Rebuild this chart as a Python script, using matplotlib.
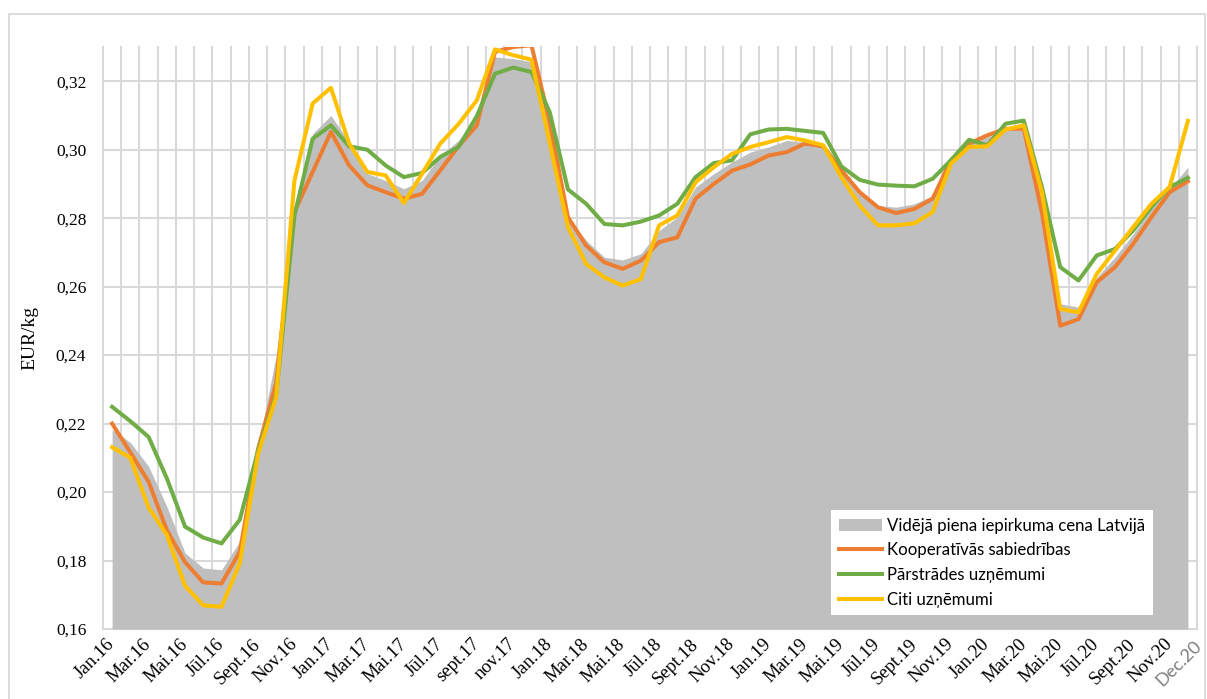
import numpy as np
import matplotlib
matplotlib.use("Agg")
import matplotlib.pyplot as plt
from matplotlib.patches import Patch, Rectangle
from matplotlib.lines import Line2D

# Monthly milk purchase prices, EUR/kg, Jan 2016 - Dec 2020
avg_price = [
    0.2183, 0.2145, 0.2075, 0.1958, 0.1822, 0.1778, 0.1773, 0.1856, 0.2130, 0.2400,
    0.2830, 0.3047, 0.3100, 0.3022, 0.2930, 0.2910, 0.2886, 0.2910, 0.2983, 0.3027,
    0.3096, 0.3271, 0.3266, 0.3257, 0.3090, 0.2803, 0.2735, 0.2686, 0.2678, 0.2696,
    0.2764, 0.2803, 0.2891, 0.2930, 0.2964, 0.2993, 0.3008, 0.3027, 0.3022, 0.3018,
    0.2949, 0.2880, 0.2837, 0.2832, 0.2842, 0.2866, 0.2974, 0.3027, 0.3037, 0.3057,
    0.3057, 0.2850, 0.2550, 0.2540, 0.2627, 0.2686, 0.2754, 0.2827, 0.2885, 0.2949,
]
cooperatives = [
    0.2200, 0.2116, 0.2030, 0.1889, 0.1795, 0.1736, 0.1733, 0.1825, 0.2125, 0.2320,
    0.2818, 0.2935, 0.3052, 0.2954, 0.2896, 0.2876, 0.2857, 0.2871, 0.2940, 0.3010,
    0.3071, 0.3286, 0.3300, 0.3305, 0.3080, 0.2803, 0.2720, 0.2671, 0.2652, 0.2676,
    0.2730, 0.2744, 0.2857, 0.2900, 0.2939, 0.2957, 0.2983, 0.2993, 0.3018, 0.3010,
    0.2939, 0.2876, 0.2832, 0.2815, 0.2827, 0.2857, 0.2969, 0.3018, 0.3042, 0.3061,
    0.3061, 0.2815, 0.2486, 0.2505, 0.2613, 0.2657, 0.2725, 0.2803, 0.2876, 0.2908,
]
processors = [
    0.2249, 0.2207, 0.2161, 0.2040, 0.1899, 0.1867, 0.1850, 0.1919, 0.2120, 0.2284,
    0.2808, 0.3032, 0.3071, 0.3010, 0.3000, 0.2954, 0.2920, 0.2932, 0.2979, 0.3008,
    0.3098, 0.3222, 0.3240, 0.3227, 0.3110, 0.2884, 0.2842, 0.2783, 0.2779, 0.2790,
    0.2808, 0.2842, 0.2920, 0.2961, 0.2969, 0.3045, 0.3059, 0.3061, 0.3055, 0.3049,
    0.2951, 0.2912, 0.2898, 0.2895, 0.2893, 0.2915, 0.2969, 0.3029, 0.3013, 0.3076,
    0.3085, 0.2890, 0.2657, 0.2618, 0.2691, 0.2710, 0.2764, 0.2832, 0.2891, 0.2918,
]
others = [
    0.2131, 0.2100, 0.1955, 0.1875, 0.1726, 0.1669, 0.1665, 0.1792, 0.2110, 0.2278,
    0.2910, 0.3135, 0.3181, 0.3018, 0.2935, 0.2925, 0.2844, 0.2930, 0.3018, 0.3075,
    0.3144, 0.3293, 0.3276, 0.3263, 0.3020, 0.2774, 0.2666, 0.2627, 0.2603, 0.2622,
    0.2779, 0.2808, 0.2905, 0.2949, 0.2988, 0.3008, 0.3022, 0.3037, 0.3027, 0.3013,
    0.2920, 0.2837, 0.2779, 0.2779, 0.2785, 0.2818, 0.2959, 0.3008, 0.3010, 0.3059,
    0.3071, 0.2875, 0.2535, 0.2525, 0.2637, 0.2705, 0.2774, 0.2842, 0.2891, 0.3084,
]

tick_labels = [
    "Jan.16", "Mar.16", "Mai.16", "Jūl.16", "Sept.16", "Nov.16",
    "Jan.17", "Mar.17", "Mai.17", "Jūl.17", "sept.17", "nov.17",
    "Jan.18", "Mar.18", "Mai.18", "Jūl.18", "Sept.18", "Nov.18",
    "Jan.19", "Mar.19", "Mai.19", "Jūl.19", "Sept.19", "Nov.19",
    "Jan.20", "Mar.20", "Mai.20", "Jūl.20", "Sept.20", "Nov.20",
]
end_label = "Dec.20"
series_names = [
    "Vidējā piena iepirkuma cena Latvijā",
    "Kooperatīvās sabiedrības",
    "Pārstrādes uzņēmumi",
    "Citi uzņēmumi",
]

C_AREA = "#BFBFBF"
C_ORANGE = "#ED7D31"
C_GREEN = "#70AD47"
C_YELLOW = "#FFC000"
C_GRID = "#D9D9D9"

n = len(avg_price)
x = np.arange(n)

fig = plt.figure(figsize=(12.07, 6.99), dpi=100)
W, H = 1207, 699
ax = fig.add_axes([103 / W, 1 - 629 / H, 1094 / W, 582 / H])

ax.set_xlim(-0.5, n - 0.5)
ax.set_ylim(0.16, 0.33)

# grid: horizontal every 0.02, vertical between months
yt = np.round(np.arange(0.16, 0.3201, 0.02), 2)
ax.set_yticks(yt)
ax.set_yticklabels([f"{v:.2f}".replace(".", ",") for v in yt],
                   fontfamily="Liberation Serif", fontsize=12.5)
ax.set_xticks(np.arange(-0.5, n, 1.0), minor=True)
ax.set_xticks(range(0, n, 2))
ax.set_xticklabels(tick_labels, rotation=45, ha="right", va="center",
                   rotation_mode="anchor", fontfamily="Liberation Serif",
                   fontsize=13.5)
# closing month label, set apart in grey
ax.annotate(end_label, xy=(n - 1, 0.16), xycoords="data",
            xytext=(8, -10.5), textcoords="offset points",
            rotation=45, ha="right", va="center", rotation_mode="anchor",
            fontfamily="Lato", fontsize=13, color="#7F7F7F",
            annotation_clip=False)

ax.grid(axis="y", which="major", color=C_GRID, lw=1.5)
ax.grid(axis="x", which="minor", color=C_GRID, lw=1.5)
ax.grid(axis="x", which="major", visible=False)
for t in ax.xaxis.get_minor_ticks() + ax.yaxis.get_major_ticks():
    t.gridline.set_clip_on(False)
ax.set_axisbelow(True)
ax.tick_params(axis="both", which="both", length=0)
ax.tick_params(axis="x", which="major", pad=9)
ax.tick_params(axis="y", which="major", pad=12)
for s in ax.spines.values():
    s.set_visible(False)

ax.fill_between(x, avg_price, 0.16, color=C_AREA, lw=0, zorder=2)
lw = 2.9
ax.plot(x, cooperatives, color=C_ORANGE, lw=lw, zorder=3, solid_joinstyle="round")
ax.plot(x, processors, color=C_GREEN, lw=lw, zorder=4, solid_joinstyle="round")
ax.plot(x, others, color=C_YELLOW, lw=lw, zorder=5, solid_joinstyle="round")

ax.set_ylabel("EUR/kg", fontfamily="Liberation Serif", fontsize=14)
ax.yaxis.set_label_coords((38 - 103) / 1094, 0.5)

handles = [
    Patch(facecolor=C_AREA, edgecolor="none"),
    Line2D([], [], color=C_ORANGE, lw=lw),
    Line2D([], [], color=C_GREEN, lw=lw),
    Line2D([], [], color=C_YELLOW, lw=lw),
]
leg = ax.legend(handles, series_names, loc="upper left",
                bbox_to_anchor=((831 - 103) / 1094, (629 - 510) / 582),
                borderaxespad=0, frameon=True, fancybox=False,
                facecolor="white", edgecolor="none", framealpha=1,
                prop={"family": "Lato", "size": 12.1},
                handlelength=2.6, handletextpad=0.3, labelspacing=0.52,
                borderpad=0.45)
leg.set_zorder(10)

fig.patches.append(Rectangle((9 / W, -0.1), (1205 - 9) / W, (H - 14) / H + 0.1,
                             transform=fig.transFigure, fill=False,
                             edgecolor=C_GRID, lw=1.3))

fig.savefig("out.png", dpi=100)
